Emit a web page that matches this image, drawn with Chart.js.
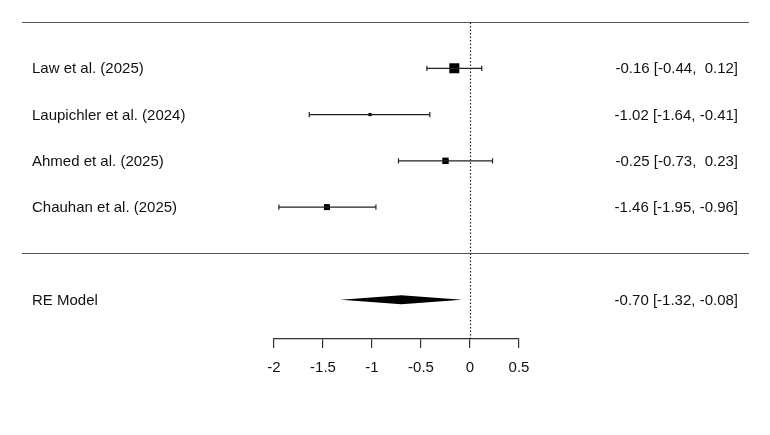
<!DOCTYPE html>
<html>
<head>
<meta charset="utf-8">
<title>Forest plot</title>
<script src="https://cdn.jsdelivr.net/npm/chart.js@4/dist/chart.umd.min.js"></script>
<style>
  body { margin: 0; background: #fff; }
  #wrap { width: 770px; height: 435px; }
</style>
</head>
<body>
<div id="wrap"><canvas id="forest" width="770" height="435"></canvas></div>
<script>
// study data
var studies = ["Law et al. (2025)", "Laupichler et al. (2024)", "Ahmed et al. (2025)", "Chauhan et al. (2025)"];
var estimates = [-0.16, -1.02, -0.25, -1.46];
var ciLower = [-0.44, -1.64, -0.73, -1.95];
var ciUpper = [0.12, -0.41, 0.23, -0.96];
var weights = [29.5, 21.0, 25.0, 24.5];
var rows = [4, 3, 2, 1];

// pooled estimate
var modelLabel = ["RE Model"];
var modelEstimate = [-0.70];
var modelLower = [-1.32];
var modelUpper = [-0.08];
var modelRow = [-1];

var tickValues = [-2, -1.5, -1, -0.5, 0, 0.5];

var FONT = "Liberation Sans, Arial, sans-serif";

function fmt(v) {
    var s = v.toFixed(2);
    return v < 0 ? s : " " + s;
}
function ciText(est, lo, hi) {
    return est.toFixed(2) + " [" + fmt(lo) + ", " + fmt(hi) + "]";
}

// square side grows with weight, like metafor
var wMin = Math.min.apply(null, weights), wMax = Math.max.apply(null, weights);
function boxRadius(w) {
    var side = 3.2 + (w - wMin) / (wMax - wMin) * 6.8;
    return side / (2 * Math.SQRT1_2);
}

var datasets = [];
studies.forEach(function (name, i) {
    datasets.push({
        type: "line",
        label: name,
        data: [{ x: ciLower[i], y: rows[i] }, { x: ciUpper[i], y: rows[i] }],
        borderColor: "#222",
        borderWidth: 1.2,
        pointStyle: "line",
        pointRotation: 90,
        pointRadius: 2.6,
        pointBorderWidth: 1.2,
        pointBorderColor: "#222",
        fill: false,
        clip: false
    });
});
datasets.push({
    type: "scatter",
    label: "estimates",
    data: estimates.map(function (e, i) { return { x: e, y: rows[i] }; }),
    pointStyle: "rect",
    pointRadius: weights.map(boxRadius),
    pointBackgroundColor: "#000",
    pointBorderWidth: 0,
    clip: false
});

var forestDecor = {
    id: "forestDecor",
    beforeDatasetsDraw: function (chart) {
        var ctx = chart.ctx, x = chart.scales.x, y = chart.scales.y;
        var topY = Math.round(y.getPixelForValue(5)) + 0.5;
        var sepY = Math.round(y.getPixelForValue(0)) + 0.5;
        ctx.save();
        ctx.strokeStyle = "#555";
        ctx.lineWidth = 1.2;
        ctx.beginPath();
        ctx.moveTo(22, topY); ctx.lineTo(749, topY);
        ctx.moveTo(22, sepY); ctx.lineTo(749, sepY);
        ctx.stroke();
        // reference line at zero
        var zx = Math.round(x.getPixelForValue(0)) + 0.5;
        ctx.strokeStyle = "#222";
        ctx.lineWidth = 1.2;
        ctx.setLineDash([1.5, 2]);
        ctx.beginPath();
        ctx.moveTo(zx, topY); ctx.lineTo(zx, chart.chartArea.bottom);
        ctx.stroke();
        ctx.restore();
    },
    afterDatasetsDraw: function (chart) {
        var ctx = chart.ctx, x = chart.scales.x, y = chart.scales.y;
        ctx.save();
        // summary diamond
        var my = y.getPixelForValue(modelRow[0]);
        ctx.fillStyle = "#000";
        ctx.beginPath();
        ctx.moveTo(x.getPixelForValue(modelLower[0]), my);
        ctx.lineTo(x.getPixelForValue(modelEstimate[0]), my - 4.5);
        ctx.lineTo(x.getPixelForValue(modelUpper[0]), my);
        ctx.lineTo(x.getPixelForValue(modelEstimate[0]), my + 4.5);
        ctx.closePath();
        ctx.fill();

        ctx.font = "15px " + FONT;
        ctx.fillStyle = "#111";
        ctx.textBaseline = "middle";
        studies.forEach(function (name, i) {
            var py = y.getPixelForValue(rows[i]) + 1;
            ctx.textAlign = "left";
            ctx.fillText(name, 32, py);
            ctx.textAlign = "right";
            ctx.fillText(ciText(estimates[i], ciLower[i], ciUpper[i]), 738, py);
        });
        ctx.textAlign = "left";
        ctx.fillText(modelLabel[0], 32, my + 1);
        ctx.textAlign = "right";
        ctx.fillText(ciText(modelEstimate[0], modelLower[0], modelUpper[0]), 738, my + 1);
        ctx.restore();
    }
};

new Chart(document.getElementById("forest").getContext("2d"), {
    data: { datasets: datasets },
    plugins: [forestDecor],
    options: {
        responsive: false,
        animation: false,
        layout: { padding: { left: 274, right: 251, top: 22, bottom: 47 } },
        plugins: { legend: { display: false }, tooltip: { enabled: false } },
        scales: {
            x: {
                type: "linear",
                min: -2,
                max: 0.5,
                afterBuildTicks: function (axis) {
                    axis.ticks = tickValues.map(function (v) { return { value: v }; });
                },
                border: { display: true, color: "#333", width: 1.2 },
                grid: { display: true, drawOnChartArea: false, drawTicks: true, tickLength: 9, color: "#333", lineWidth: 1.2 },
                ticks: {
                    padding: 11,
                    color: "#111",
                    font: { family: FONT, size: 15 },
                    maxRotation: 0,
                    autoSkip: false,
                    callback: function (v) { return String(v); }
                }
            },
            y: {
                type: "linear",
                display: false,
                min: -1.85,
                max: 5
            }
        }
    }
});
</script>
</body>
</html>
